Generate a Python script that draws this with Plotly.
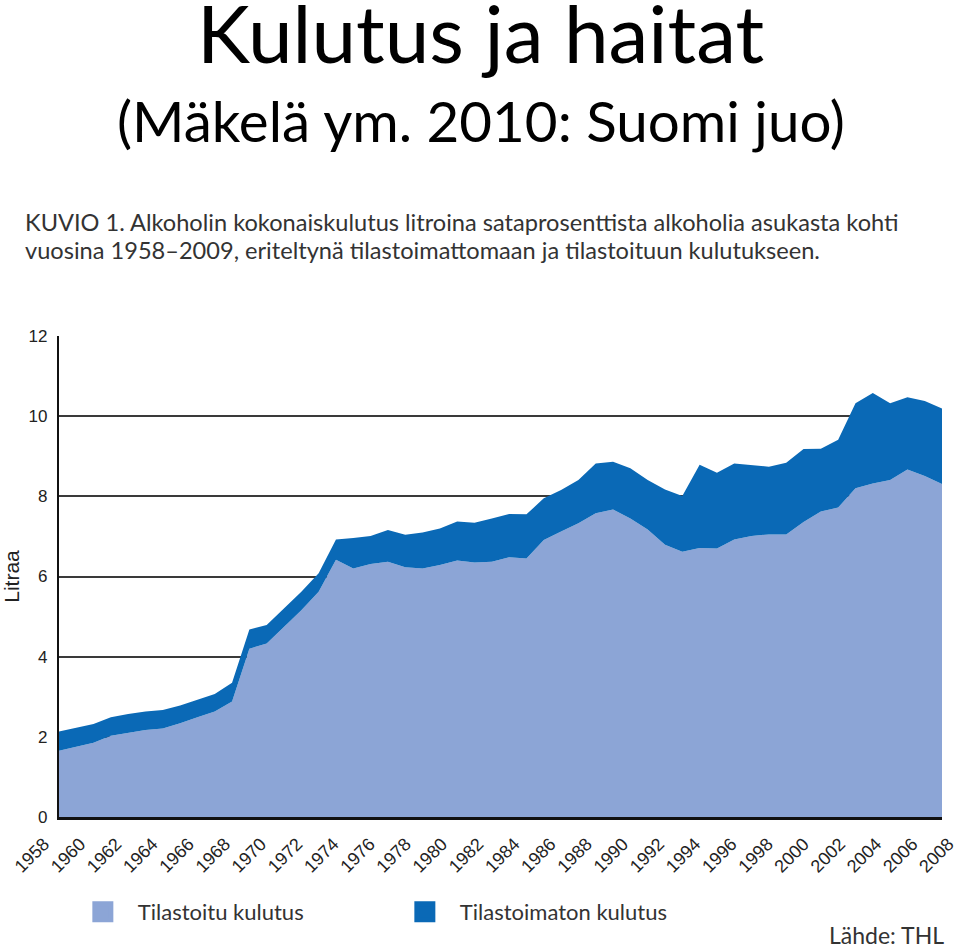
import plotly.graph_objects as go

# ---------------- data ----------------
years = list(range(1958, 2010))
tilastoitu = [1.65, 1.75, 1.85, 2.03, 2.10, 2.17, 2.21, 2.34, 2.49, 2.63,
              2.88, 4.20, 4.33, 4.75, 5.16, 5.62, 6.42, 6.20, 6.31, 6.37,
              6.23, 6.20, 6.29, 6.40, 6.35, 6.37, 6.48, 6.45, 6.91, 7.12,
              7.33, 7.58, 7.67, 7.45, 7.17, 6.79, 6.62, 6.71, 6.70, 6.92,
              7.01, 7.05, 7.05, 7.36, 7.62, 7.72, 8.20, 8.32, 8.41, 8.67,
              8.51, 8.31]
tilastoimaton = [0.48, 0.47, 0.47, 0.46, 0.47, 0.46, 0.46, 0.44, 0.44, 0.44,
                 0.47, 0.48, 0.46, 0.45, 0.46, 0.46, 0.50, 0.76, 0.70, 0.79,
                 0.81, 0.90, 0.91, 0.97, 0.99, 1.08, 1.08, 1.10, 1.04, 1.04,
                 1.08, 1.24, 1.19, 1.25, 1.24, 1.38, 1.39, 2.08, 1.89, 1.90,
                 1.77, 1.69, 1.79, 1.82, 1.57, 1.69, 2.12, 2.26, 1.91, 1.80,
                 1.87, 1.88]
tick_years = list(range(1958, 2009, 2))
tick_labels = [str(y) for y in tick_years]
y_ticks = [0, 2, 4, 6, 8, 10, 12]

LIGHT = "#8CA5D6"
DARK = "#0A69B6"

fig = go.Figure()
fig.add_trace(go.Scatter(x=years, y=tilastoitu, stackgroup="one", mode="lines",
                         line=dict(width=0, color=LIGHT), fillcolor=LIGHT,
                         showlegend=False, hoverinfo="skip"))
fig.add_trace(go.Scatter(x=years, y=tilastoimaton, stackgroup="one", mode="lines",
                         line=dict(width=0, color=DARK), fillcolor=DARK,
                         showlegend=False, hoverinfo="skip"))
# legend entries
fig.add_trace(go.Scatter(x=[None], y=[None], mode="markers", name="Tilastoitu kulutus",
                         marker=dict(symbol="square", size=16, color=LIGHT,
                                     line=dict(width=5, color=LIGHT))))
fig.add_trace(go.Scatter(x=[None], y=[None], mode="markers", name="Tilastoimaton kulutus",
                         marker=dict(symbol="square", size=16, color=DARK,
                                     line=dict(width=5, color=DARK))))
# placeholder binding the year-label axis
fig.add_trace(go.Scatter(x=[None], y=[None], xaxis="x2", yaxis="y2", mode="markers",
                         showlegend=False, hoverinfo="skip"))

L, R, T, B = 30, 0, 336, 135
W, H = 960, 952
pw = W - L - R
ph = H - T - B

def px_x(p):
    return (p - L) / pw

def px_y(p):
    return (H - B - p) / ph

# label axis scale
scale = 18.17
T0 = 40
r0 = 1958 - (T0 - L) / scale
r1 = r0 + pw / scale

TXT = "#333333"

fig.update_layout(
    width=W, height=H, autosize=False,
    margin=dict(l=L, r=R, t=T, b=B),
    paper_bgcolor="white", plot_bgcolor="rgba(0,0,0,0)",
    xaxis=dict(domain=[px_x(55), px_x(942)], range=[1958, 2009],
               showticklabels=False, showgrid=False, zeroline=False,
               showline=True, linecolor="#111111", linewidth=3, ticks=""),
    yaxis=dict(range=[0, 12], tickvals=y_ticks, showgrid=True,
               gridcolor="#3a3a3a", gridwidth=1.6, zeroline=False,
               showline=True, linecolor="#111111", linewidth=2, ticks="",
               tickfont=dict(family="Liberation Sans", size=17, color="#222222"),
               ticklabelstandoff=6,
               title=dict(text="Litraa", font=dict(family="Liberation Sans", size=21,
                                                   color="#222222"), standoff=14)),
    xaxis2=dict(domain=[0, 1], anchor="y2", range=[r0, r1], tickvals=tick_years,
                ticktext=tick_labels, tickangle=-45, showgrid=False, zeroline=False,
                showline=False, ticks="", fixedrange=True, ticklabeloverflow="allow",
                tickfont=dict(family="Liberation Sans", size=18, color="#222222"),
                ticklabelstandoff=12),
    yaxis2=dict(domain=[0, 0.01], anchor="x2", range=[0, 1], showgrid=False,
                zeroline=False, showline=False, showticklabels=False, ticks="",
                fixedrange=True),
    legend=dict(orientation="h", x=px_x(64), y=px_y(912), xanchor="left",
                yanchor="middle", entrywidth=247, entrywidthmode="pixels",
                itemwidth=60, traceorder="normal",
                font=dict(family="Lato", size=22, color=TXT),
                bgcolor="rgba(0,0,0,0)"),
    annotations=[
        dict(text="Kulutus ja haitat", xref="paper", yref="paper", x=px_x(478.5),
             y=px_y(32), xanchor="center", yanchor="middle", showarrow=False,
             font=dict(family="Lato", size=80, color="black")),
        dict(text="(Mäkelä ym. 2010: Suomi juo)", xref="paper", yref="paper",
             x=px_x(478.5), y=px_y(120), xanchor="center", yanchor="middle",
             showarrow=False, font=dict(family="Lato", size=56.5, color="black")),
        dict(text="KUVIO 1. Alkoholin kokonaiskulutus litroina sataprosenttista alkoholia asukasta kohti",
             xref="paper", yref="paper", x=px_x(19), y=px_y(222), xanchor="left",
             yanchor="middle", showarrow=False,
             font=dict(family="Lato", size=23.6, color=TXT)),
        dict(text="vuosina 1958–2009, eriteltynä tilastoimattomaan ja tilastoituun kulutukseen.",
             xref="paper", yref="paper", x=px_x(19), y=px_y(250), xanchor="left",
             yanchor="middle", showarrow=False,
             font=dict(family="Lato", size=23.6, color=TXT)),
        dict(text="Lähde: THL", xref="paper", yref="paper", x=px_x(946), y=px_y(951),
             xanchor="right", yanchor="bottom", showarrow=False,
             font=dict(family="Lato", size=23, color=TXT)),
    ],
)

fig.write_html("out.html", config={"displayModeBar": False},
               post_script="document.body.style.margin='0';")
